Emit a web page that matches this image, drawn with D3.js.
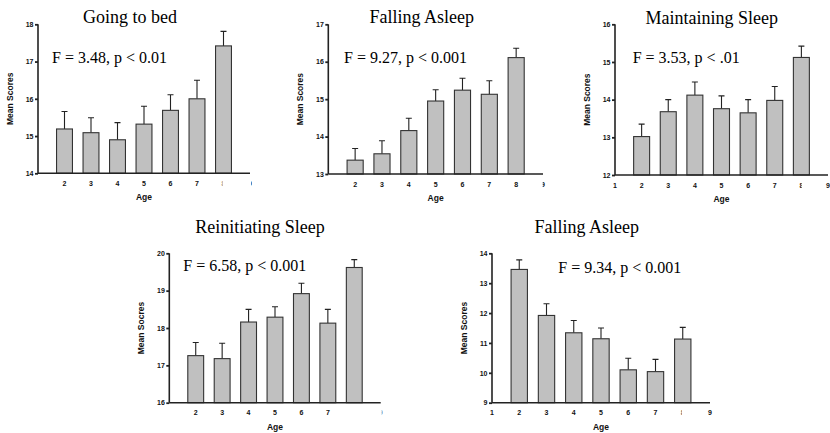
<!DOCTYPE html>
<html lang="en">
  <head>
    <meta charset="UTF-8" />
    <title>Sleep scores by age</title>
    <script src="https://cdn.jsdelivr.net/npm/d3@7"></script>
    <style>
      body { margin: 0; background: #fff; }
      svg { display: block; }
      .tick-lab { font: bold 7px "Liberation Sans", Arial, sans-serif; fill: #111; }
      .ax-lab { font: bold 8.5px "Liberation Sans", Arial, sans-serif; fill: #111; }
      .title { font: 18px "Liberation Serif", "Times New Roman", serif; fill: #000; }
      .stat { font: 16px "Liberation Serif", "Times New Roman", serif; fill: #000; }
    </style>
  </head>
  <body>
    <svg width="830" height="433"></svg>
    <script>
      // ages on the x axis (same for every panel)
      const ages = [2, 3, 4, 5, 6, 7, 8];

      // means and upper error (sem)
      const bedMeans = [15.19, 15.09, 14.9, 15.32, 15.69, 16.0, 17.42];
      const bedErrs = [0.47, 0.4, 0.46, 0.48, 0.42, 0.5, 0.39];
      const asleepMeans = [13.37, 13.54, 14.16, 14.95, 15.24, 15.13, 16.11];
      const asleepErrs = [0.31, 0.35, 0.33, 0.3, 0.32, 0.36, 0.25];
      const maintainMeans = [13.02, 13.68, 14.12, 13.76, 13.65, 13.98, 15.12];
      const maintainErrs = [0.33, 0.32, 0.35, 0.34, 0.35, 0.37, 0.3];
      const reinitMeans = [17.26, 17.18, 18.16, 18.29, 18.92, 18.13, 19.62];
      const reinitErrs = [0.35, 0.41, 0.34, 0.28, 0.28, 0.37, 0.21];
      const asleep2Means = [13.46, 11.92, 11.34, 11.14, 10.1, 10.04, 11.13];
      const asleep2Errs = [0.32, 0.39, 0.41, 0.36, 0.39, 0.41, 0.39];

      // x tick labels shown per panel
      const ticksA = [2, 3, 4, 5, 6, 7, 8, 9];
      const ticksB = [1, 2, 3, 4, 5, 6, 7, 8, 9];
      const ticksC = [2, 3, 4, 5, 6, 7, 9];

      const panels = [
        { title: "Going to bed", stat: "F = 3.48, p < 0.01", yLab: "Mean Scores",
          means: bedMeans, errs: bedErrs, yDom: [14, 18], ticks: ticksA,
          ax: 38, ax2: 250, yT: 24.3, yB: 173.3, tx: 130, ty: 23, sx: 52, sy: 63,
          clip: { 8: [-2.2, -1.1], 9: [1.1, 2] } },
        { title: "Falling Asleep", stat: "F = 9.27, p < 0.001", yLab: "Mean Scores",
          means: asleepMeans, errs: asleepErrs, yDom: [13, 17], ticks: ticksA,
          ax: 328.3, ax2: 543, yT: 24.3, yB: 174, tx: 421.7, ty: 23.3, sx: 344, sy: 63,
          clip: { 9: [-0.3, 3] } },
        { title: "Maintaining Sleep", stat: "F = 3.53, p < .01", yLab: "Mean Scores",
          means: maintainMeans, errs: maintainErrs, yDom: [12, 16], ticks: ticksB,
          ax: 615, ax2: 828, yT: 24.3, yB: 175, tx: 711.7, ty: 24, sx: 632.7, sy: 63,
          clip: { 8: [-3, 0.3] } },
        { title: "Reinitiating Sleep", stat: "F = 6.58, p < 0.001", yLab: "Mean Socres",
          means: reinitMeans, errs: reinitErrs, yDom: [16, 20], ticks: ticksC,
          ax: 169.3, ax2: 380.7, yT: 253.3, yB: 402.7, tx: 260, ty: 232.7, sx: 183.3, sy: 271,
          clip: { 9: [1.1, 2] } },
        { title: "Falling Asleep", stat: "F = 9.34, p < 0.001", yLab: "Mean Scores",
          means: asleep2Means, errs: asleep2Errs, yDom: [9, 14], ticks: ticksB,
          ax: 492, ax2: 710, yT: 253.3, yB: 402.7, tx: 586.7, ty: 232.7, sx: 558.3, sy: 272.7,
          clip: { 8: [-2.4, -1.1] } }
      ];

      const svg = d3.select("svg");
      const defs = svg.append("defs");
      let clipId = 0;

      panels.forEach((p) => {
        const g = svg.append("g");
        const x = d3.scaleLinear().domain([1, 9]).range([p.ax, p.ax2]);
        const y = d3.scaleLinear().domain(p.yDom).range([p.yB, p.yT]);
        const step = x(2) - x(1);
        const bw = step * 0.6;
        const data = ages.map((a, i) => ({ age: a, m: p.means[i], e: p.errs[i] }));

        // error bars (upper only)
        g.selectAll(".err").data(data).join("path")
          .attr("d", (d) => `M${x(d.age)},${y(d.m)}V${y(d.m + d.e)}M${x(d.age) - 3},${y(d.m + d.e)}H${x(d.age) + 3}`)
          .attr("stroke", "#222").attr("stroke-width", 1.1).attr("fill", "none");

        g.selectAll("rect").data(data).join("rect")
          .attr("x", (d) => x(d.age) - bw / 2)
          .attr("y", (d) => y(d.m))
          .attr("width", bw)
          .attr("height", (d) => y(p.yDom[0]) - y(d.m))
          .attr("fill", "#c0c0c0")
          .attr("stroke", "#333").attr("stroke-width", 1.1);

        // y axis
        const yAxis = d3.axisLeft(y).ticks(p.yDom[1] - p.yDom[0]).tickSize(3).tickPadding(1.5)
          .tickFormat(d3.format("d"));
        const ya = g.append("g").attr("transform", `translate(${p.ax},0)`).call(yAxis);
        ya.select(".domain").attr("d", `M0,${p.yB}V${p.yT}`).attr("stroke", "#222").attr("stroke-width", 1.6);
        ya.selectAll(".tick line").attr("stroke", "#222").attr("stroke-width", 1.8);
        ya.selectAll(".tick text").attr("class", "tick-lab").attr("font-family", null).attr("font-size", null);

        // x axis: plain line with labels, no tick marks
        g.append("line")
          .attr("x1", p.ax).attr("x2", p.ax2).attr("y1", p.yB).attr("y2", p.yB)
          .attr("stroke", "#222").attr("stroke-width", 1.6);

        p.ticks.forEach((t) => {
          const lab = g.append("text").attr("class", "tick-lab")
            .attr("x", x(t)).attr("y", p.yB + 12.5)
            .attr("text-anchor", "middle").text(t);
          const c = p.clip[t];
          if (c) {
            const id = "clp" + clipId++;
            defs.append("clipPath").attr("id", id).append("rect")
              .attr("x", x(t) + c[0]).attr("width", c[1] - c[0])
              .attr("y", p.yB + 4).attr("height", 12);
            lab.attr("clip-path", `url(#${id})`);
          }
        });

        g.append("text").attr("class", "ax-lab")
          .attr("x", (p.ax + p.ax2) / 2).attr("y", p.yB + 27)
          .attr("text-anchor", "middle").text("Age");

        g.append("text").attr("class", "ax-lab")
          .attr("transform", `translate(${p.ax - 25.5},${(p.yT + p.yB) / 2}) rotate(-90)`)
          .attr("text-anchor", "middle").text(p.yLab);

        g.append("text").attr("class", "title")
          .attr("x", p.tx).attr("y", p.ty).attr("text-anchor", "middle").text(p.title);

        g.append("text").attr("class", "stat")
          .attr("x", p.sx).attr("y", p.sy).text(p.stat);
      });
    </script>
  </body>
</html>
